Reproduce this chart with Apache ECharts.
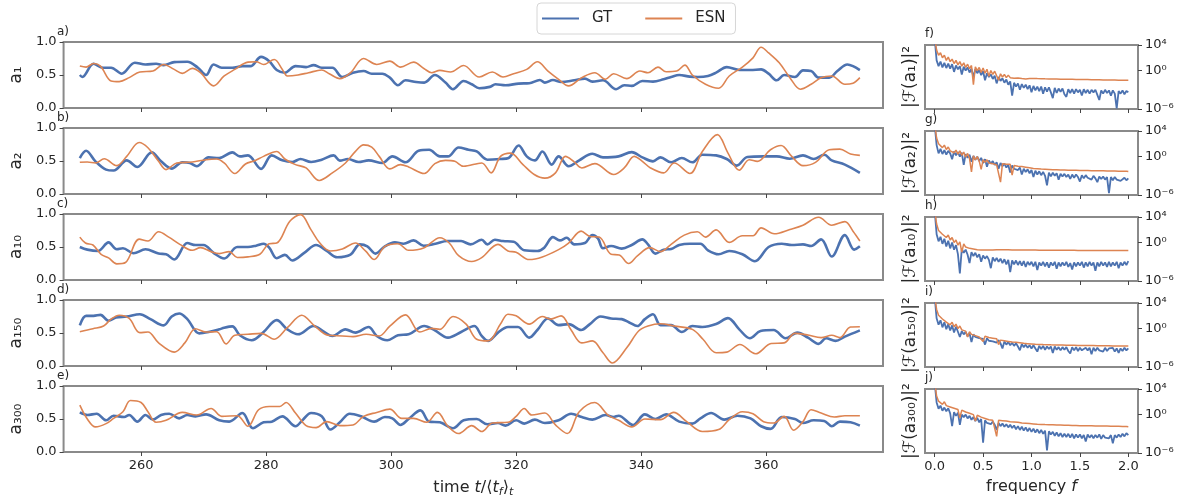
<!DOCTYPE html>
<html>
<head>
<meta charset="utf-8">
<title>GT vs ESN modal amplitudes</title>
<script src="https://cdn.jsdelivr.net/npm/echarts@6.0.0/dist/echarts.min.js"></script>
<style>
  html, body { margin: 0; padding: 0; background: #ffffff; }
  #chart { width: 1186px; height: 502px; }
</style>
</head>
<body>
<div id="chart"></div>
<script>
// ---- Time traces: [time t/<t_f>_t, amplitude] ----
const a1GT = [[250.2,0.50],[250.6,0.47],[252.4,0.67],[253.9,0.61],[255.2,0.61],[256.9,0.52],[259,0.685],[260.7,0.66],[262.4,0.67],[263.6,0.65],[265.3,0.695],[267.4,0.70],[269.1,0.61],[270.4,0.50],[271.6,0.66],[272.9,0.61],[274.6,0.61],[276.2,0.635],[277.5,0.635],[279.2,0.775],[280.5,0.71],[281.7,0.575],[283,0.535],[284.7,0.635],[286.4,0.62],[287.6,0.65],[288.9,0.61],[290.6,0.61],[292.2,0.47],[293.9,0.535],[295.6,0.56],[296.9,0.52],[298.6,0.52],[299.8,0.46],[301.1,0.345],[302.3,0.42],[304,0.395],[305.3,0.385],[307,0.50],[308.7,0.385],[309.9,0.285],[311.6,0.41],[312.9,0.36],[314.1,0.30],[315.8,0.32],[316.7,0.36],[318.3,0.345],[320.4,0.37],[322.1,0.375],[323.8,0.425],[324.6,0.385],[325.9,0.425],[327.2,0.395],[329.3,0.42],[331,0.445],[332.2,0.40],[333.9,0.42],[336,0.285],[337.3,0.345],[338.5,0.335],[340.2,0.41],[341.9,0.40],[343.6,0.435],[344.8,0.47],[346.1,0.50],[347.8,0.475],[349.1,0.47],[350.7,0.485],[352,0.535],[353.7,0.62],[355.8,0.575],[357.5,0.575],[359.2,0.585],[360.4,0.52],[361.7,0.42],[362.9,0.50],[364.6,0.47],[365.9,0.57],[367.2,0.56],[368.4,0.46],[370.1,0.46],[371.4,0.56],[373,0.66],[373.9,0.635],[375,0.575]];
const a1ESN = [[250.2,0.635],[251.2,0.62],[252.4,0.675],[253.5,0.635],[255.2,0.41],[256.5,0.40],[258.1,0.46],[259.8,0.545],[261.9,0.56],[263.6,0.66],[265.3,0.585],[266.6,0.525],[268.2,0.60],[269.5,0.535],[271.6,0.335],[273.3,0.485],[275,0.585],[277.1,0.695],[278.4,0.70],[279.6,0.66],[281.3,0.735],[282.6,0.585],[283.4,0.485],[285.1,0.50],[286.8,0.535],[288.9,0.575],[290.1,0.52],[291.8,0.445],[293.5,0.535],[295.6,0.75],[297.7,0.66],[299.8,0.71],[301.5,0.62],[303.6,0.695],[305.3,0.595],[306.5,0.535],[307.8,0.57],[309.5,0.545],[311.6,0.645],[314.1,0.47],[316.2,0.545],[317.9,0.47],[319.6,0.52],[321.7,0.585],[323.4,0.70],[325.1,0.56],[326.8,0.435],[328.4,0.335],[330.5,0.46],[332.6,0.535],[334.3,0.435],[335.6,0.52],[337.7,0.445],[339.8,0.56],[341.1,0.535],[342.7,0.62],[344,0.55],[345.7,0.56],[347,0.65],[348.2,0.50],[350.3,0.36],[352.4,0.30],[354.1,0.485],[356.2,0.62],[357.9,0.76],[359.2,0.92],[360.4,0.835],[362.1,0.685],[363.8,0.46],[365.5,0.285],[367.2,0.36],[368.8,0.46],[370.5,0.485],[372.6,0.36],[373.9,0.375],[375,0.46]];

const a2GT = [[250.2,0.545],[251.2,0.655],[252.7,0.495],[254.4,0.37],[255.6,0.355],[257.7,0.51],[259.4,0.41],[261.7,0.63],[263.2,0.495],[264.9,0.385],[266.6,0.48],[267.8,0.47],[268.9,0.42],[270.8,0.555],[272.5,0.545],[274.6,0.63],[275.8,0.57],[277.1,0.585],[279.2,0.38],[280.9,0.585],[282.6,0.51],[284.2,0.485],[285.5,0.53],[287.2,0.485],[288.9,0.52],[290.8,0.585],[291.8,0.505],[293.1,0.53],[294.8,0.485],[296.4,0.51],[298.6,0.47],[300.2,0.57],[302.3,0.48],[304.4,0.655],[306.1,0.67],[307.8,0.57],[309.1,0.57],[310.8,0.705],[312.4,0.67],[313.7,0.645],[315.4,0.52],[317.5,0.53],[318.8,0.545],[320.4,0.735],[321.7,0.57],[323,0.51],[324.2,0.645],[325.7,0.445],[326.8,0.57],[328.4,0.42],[330.1,0.51],[332.2,0.61],[333.9,0.555],[336.4,0.57],[338.5,0.635],[340.2,0.555],[341.9,0.495],[343.1,0.555],[344.8,0.48],[346.5,0.545],[348.2,0.48],[349.8,0.595],[352,0.585],[353.7,0.53],[355.3,0.43],[357,0.56],[359.6,0.57],[361.7,0.57],[363.8,0.535],[365.9,0.585],[367.6,0.53],[369.3,0.595],[370.5,0.51],[372.6,0.445],[375,0.32]];
const a2ESN = [[250.2,0.48],[251.4,0.485],[252.7,0.47],[254.1,0.535],[256.1,0.43],[257.7,0.57],[259.7,0.78],[261.1,0.70],[262.8,0.495],[264,0.37],[265.7,0.47],[268.2,0.485],[270.4,0.52],[272.1,0.53],[273.3,0.47],[275,0.31],[276.7,0.455],[278.2,0.505],[279.6,0.57],[281.7,0.645],[283,0.53],[284.7,0.445],[286.4,0.395],[288.5,0.205],[290.6,0.32],[292.7,0.47],[294.3,0.645],[295.6,0.745],[296.9,0.71],[298.1,0.57],[299.8,0.38],[301.5,0.445],[302.8,0.41],[305.3,0.31],[307,0.46],[308.7,0.51],[310.2,0.495],[311.6,0.42],[314.5,0.47],[316,0.32],[317.5,0.57],[319.1,0.62],[321.1,0.445],[322.9,0.295],[324.6,0.24],[326.3,0.32],[327.9,0.57],[329.2,0.495],[330.5,0.395],[332.6,0.46],[335.6,0.295],[337.3,0.395],[338.9,0.57],[340.2,0.495],[341.5,0.395],[343.6,0.32],[345.3,0.47],[347.8,0.31],[349.8,0.645],[352.2,0.90],[353.9,0.62],[355.7,0.36],[357.3,0.52],[358.6,0.495],[360.7,0.67],[362.4,0.735],[364.1,0.57],[365.9,0.43],[367.9,0.48],[370.1,0.67],[371.8,0.68],[373.5,0.605],[375,0.585]];

const a10GT = [[250.2,0.50],[251.4,0.46],[253.1,0.44],[254.8,0.57],[256.1,0.465],[257.1,0.48],[258.8,0.405],[260.7,0.465],[262.8,0.40],[264,0.39],[265.3,0.31],[267.4,0.56],[268.7,0.53],[270,0.53],[271.6,0.41],[273.3,0.325],[275.4,0.50],[277.1,0.50],[278.4,0.52],[279.6,0.55],[280.5,0.49],[281.7,0.33],[283,0.38],[284.2,0.295],[286.1,0.41],[288,0.53],[289.7,0.44],[291.4,0.345],[293.5,0.385],[295,0.54],[296.2,0.51],[297.5,0.40],[299,0.51],[300.6,0.57],[302,0.55],[303.6,0.60],[305.2,0.52],[307.1,0.55],[309,0.59],[311.2,0.59],[312.7,0.54],[314.5,0.61],[315.4,0.54],[316.6,0.61],[317.9,0.59],[319.6,0.58],[321.3,0.45],[323.4,0.44],[324.5,0.49],[325.9,0.65],[327,0.60],[328.1,0.64],[329.3,0.54],[331,0.56],[332.2,0.68],[333.1,0.63],[333.9,0.48],[335.2,0.515],[336.9,0.475],[338.5,0.53],[340.2,0.615],[341.1,0.54],[342.3,0.40],[343.6,0.46],[344.8,0.47],[346.1,0.53],[347.8,0.55],[349.5,0.55],[350.7,0.45],[352.4,0.39],[354.1,0.44],[356.2,0.39],[358.2,0.285],[360.4,0.50],[362.5,0.55],[364.1,0.53],[365.9,0.54],[367.2,0.515],[368.8,0.615],[370.5,0.355],[372.6,0.68],[374.1,0.46],[375,0.51]];
const a10ESN = [[250.2,0.65],[251.1,0.56],[252.3,0.53],[253.6,0.39],[254.8,0.335],[256.1,0.245],[257.5,0.265],[259.7,0.62],[261.1,0.59],[262.8,0.73],[264.5,0.645],[266.2,0.54],[268.2,0.45],[269.5,0.49],[271.2,0.43],[272.5,0.40],[274.1,0.43],[275.4,0.34],[277.1,0.35],[279,0.39],[280.5,0.55],[281.7,0.56],[283.8,0.89],[285.5,0.99],[287.2,0.76],[288.6,0.56],[290.3,0.44],[292.2,0.47],[294.3,0.56],[295.9,0.44],[297.3,0.31],[299,0.51],[301.1,0.55],[302.8,0.45],[305.3,0.49],[307.8,0.64],[309.3,0.56],[310.8,0.37],[312.9,0.28],[314.5,0.34],[317.1,0.54],[318.7,0.44],[320,0.42],[322.1,0.31],[324.2,0.35],[326.8,0.46],[328.4,0.56],[330.4,0.74],[331.8,0.66],[333.3,0.65],[335.2,0.39],[336.5,0.38],[338,0.25],[339.4,0.365],[341.4,0.49],[343.1,0.43],[344.8,0.54],[346.9,0.68],[349,0.73],[350.3,0.65],[352,0.76],[354.1,0.57],[356.2,0.67],[357.9,0.67],[359.2,0.79],[361.3,0.70],[363.8,0.765],[365.9,0.83],[368.4,0.95],[370.5,0.83],[372.6,0.885],[373.9,0.74],[375,0.59]];

const a150GT = [[250.2,0.615],[251.2,0.76],[252.4,0.76],[253.5,0.775],[254.8,0.685],[256,0.735],[257.7,0.75],[259.8,0.785],[261.5,0.71],[263.6,0.615],[264.9,0.75],[266.1,0.795],[267.4,0.71],[269.3,0.495],[270.8,0.515],[272.5,0.555],[273.3,0.58],[274.6,0.60],[275.8,0.465],[277.7,0.39],[279.6,0.515],[281.7,0.695],[283.4,0.555],[285.1,0.48],[287.6,0.605],[289.3,0.515],[290.6,0.455],[292.7,0.555],[294.3,0.505],[296.4,0.59],[297.7,0.455],[299.4,0.39],[301.1,0.465],[302.8,0.48],[305.3,0.605],[307,0.54],[309.1,0.43],[311.2,0.515],[313.3,0.605],[314.5,0.455],[315.5,0.38],[317.1,0.505],[318.7,0.59],[320.3,0.59],[322.1,0.43],[323.4,0.545],[325.1,0.72],[326.8,0.62],[328.4,0.635],[330.4,0.545],[331.8,0.635],[333.5,0.75],[335.2,0.72],[336.9,0.71],[338.1,0.66],[339.4,0.605],[340.6,0.71],[341.9,0.785],[343.1,0.62],[344.8,0.62],[346.5,0.515],[348.2,0.605],[349.8,0.59],[352,0.635],[353.9,0.725],[355.7,0.555],[357.4,0.42],[359.1,0.53],[361.2,0.545],[363.1,0.42],[365,0.505],[366.7,0.43],[368.4,0.335],[369.6,0.42],[371.1,0.38],[372.6,0.445],[375,0.54]];
const a150ESN = [[250.2,0.52],[252.3,0.565],[254,0.605],[255.2,0.71],[256.5,0.77],[258.1,0.72],[259.8,0.505],[261.1,0.515],[262.8,0.35],[265.3,0.21],[267,0.35],[268.7,0.565],[270.4,0.515],[272.1,0.52],[273.6,0.335],[275,0.465],[277.1,0.48],[279.2,0.495],[281.3,0.405],[283.4,0.58],[285.7,0.77],[287.8,0.605],[289.9,0.465],[292.2,0.455],[293.9,0.445],[296,0.48],[298.1,0.455],[299.8,0.605],[302.3,0.775],[304.6,0.515],[306.5,0.57],[307.8,0.555],[309.9,0.75],[312,0.635],[313.7,0.405],[315.5,0.38],[317.5,0.635],[318.7,0.785],[320,0.76],[322.1,0.635],[324.2,0.75],[325.5,0.71],[327.2,0.76],[328.8,0.545],[330.5,0.35],[332.2,0.38],[333.9,0.20],[335.4,0.045],[337.7,0.275],[339.6,0.53],[341.1,0.605],[343.1,0.64],[345.3,0.605],[348.2,0.555],[349.9,0.405],[352,0.20],[353.7,0.21],[355.8,0.325],[358.3,0.185],[360.8,0.34],[362.9,0.35],[364.6,0.495],[366.7,0.47],[368.8,0.43],[370.5,0.465],[371.8,0.43],[373.5,0.59],[375,0.595]];

const a300GT = [[250.2,0.60],[251.4,0.56],[252.9,0.58],[254.4,0.48],[255.6,0.55],[257.3,0.53],[258.1,0.56],[259.4,0.46],[260.7,0.56],[261.9,0.49],[263.2,0.56],[264.5,0.58],[266.1,0.51],[267.4,0.56],[268.7,0.54],[270.4,0.57],[272.5,0.48],[274.1,0.46],[276.2,0.59],[277.9,0.36],[279.6,0.45],[280.9,0.46],[282.6,0.54],[284.7,0.39],[285.9,0.49],[287.2,0.59],[288.9,0.54],[290.3,0.34],[291.8,0.45],[293.4,0.58],[295.2,0.54],[297.3,0.46],[299,0.53],[300.2,0.51],[301.5,0.41],[302.8,0.50],[304.7,0.63],[306.1,0.46],[307.8,0.45],[309.9,0.36],[311.6,0.48],[313.7,0.50],[315.4,0.42],[317.1,0.44],[318.3,0.40],[320,0.48],[321.3,0.43],[323,0.49],[324.6,0.44],[326.8,0.48],[328.8,0.58],[330.5,0.53],[332.2,0.49],[334.3,0.56],[335.6,0.53],[336.4,0.55],[338.7,0.41],[340.6,0.57],[342.3,0.50],[344,0.57],[346.1,0.46],[348.2,0.43],[349.5,0.51],[351.2,0.59],[353.3,0.49],[355.4,0.55],[357.5,0.51],[359.2,0.39],[360.7,0.35],[362.5,0.53],[364.6,0.50],[365.9,0.44],[367.6,0.48],[369.3,0.47],[370.5,0.39],[371.8,0.46],[373.5,0.45],[375,0.40]];
const a300ESN = [[250.2,0.71],[251.4,0.50],[252.7,0.38],[254.4,0.43],[255.6,0.51],[257.1,0.61],[258.3,0.78],[260,0.75],[261.1,0.61],[262.4,0.45],[264,0.48],[266.6,0.60],[268.9,0.56],[271.2,0.66],[272.9,0.54],[275.4,0.55],[277.1,0.39],[278.8,0.64],[280.5,0.69],[282.2,0.69],[283.2,0.75],[284.7,0.59],[286.4,0.40],[288,0.37],[289.7,0.46],[291.8,0.40],[293.9,0.41],[295.6,0.54],[297.7,0.60],[299.8,0.65],[301.7,0.51],[303.6,0.51],[305.7,0.45],[307.4,0.60],[309.1,0.39],[310.8,0.28],[312.9,0.40],[314.5,0.31],[316.2,0.44],[318.7,0.45],[320,0.54],[321.3,0.66],[322.5,0.56],[324.6,0.59],[326.3,0.41],[328.2,0.28],[330.1,0.61],[332.6,0.75],[334.7,0.56],[336.4,0.48],[338.5,0.38],[340.6,0.50],[343.1,0.49],[345.2,0.60],[347.3,0.46],[349.8,0.31],[352.4,0.34],[354.1,0.49],[356.2,0.61],[357.9,0.58],[359.6,0.46],[361.2,0.44],[362.9,0.54],[364.4,0.33],[365.9,0.46],[367.2,0.64],[368.8,0.59],[370.9,0.53],[372.6,0.55],[375,0.55]];

// ---- Power spectra: log10 |F(a)|^2 on a uniform grid f = 0 ... 2 ----
const specA1GT = [5,1.6,0.7,1.4,0.5,1.2,0.4,1.1,0.3,1.0,-0.2,0.8,0.2,0.7,-0.6,0.6,0.0,0.5,-0.3,0.3,-1.0,0.2,-0.4,0.1,-0.7,-0.1,-1.5,-0.4,-1.0,-0.6,-1.3,-0.8,-2.0,-1.0,-1.6,-1.2,-1.9,-1.4,-2.2,-1.7,-3.9,-1.9,-2.5,-2.0,-3.0,-2.1,-2.7,-2.2,-2.9,-2.3,-3.4,-2.4,-3.1,-2.5,-3.2,-2.5,-3.6,-2.6,-3.3,-2.6,-3.4,-4.3,-2.7,-3.5,-2.8,-3.3,-2.8,-3.7,-4.1,-2.9,-3.5,-2.9,-3.6,-2.9,-3.4,-3.0,-3.9,-2.9,-3.5,-3.0,-3.6,-3.0,-3.4,-3.0,-3.8,-4.6,-3.1,-3.6,-3.0,-3.5,-3.1,-3.9,-3.1,-3.6,-5.9,-3.2,-3.6,-3.1,-3.7,-3.2,-3.4];
const specA1ESN = [5,3.2,2.4,2.8,2.0,2.4,1.6,2.1,1.4,1.8,1.1,1.6,0.9,1.4,0.7,1.2,0.5,1.0,0.3,0.8,-2.2,0.6,0.0,0.5,-0.3,0.4,-0.4,0.2,-0.9,0.0,-0.6,-0.1,-0.8,-1.5,-0.5,-1.0,-0.6,-1.1,-0.7,-1.1,-0.8,-1.2,-0.9,-1.15,-1.0,-1.25,-1.05,-1.3,-1.1,-1.25,-1.15,-1.22,-1.18,-1.25,-1.21,-1.27,-1.24,-1.29,-1.26,-1.3,-1.28,-1.32,-1.29,-1.33,-1.31,-1.34,-1.32,-1.35,-1.33,-1.36,-1.34,-1.37,-1.35,-1.38,-1.36,-1.39,-1.37,-1.4,-1.38,-1.41,-1.39,-1.42,-1.4,-1.43,-1.41,-1.44,-1.42,-1.45,-1.43,-1.46,-1.44,-1.47,-1.45,-1.48,-1.46,-1.49,-1.47,-1.5,-1.48,-1.5,-1.49];
const specA2GT = [5,1.8,0.5,1.2,0.4,1.0,0.3,0.9,0.5,-0.4,0.8,0.2,0.7,0.0,0.6,-1.3,0.4,-0.2,0.3,-0.8,0.1,-0.5,0.0,-0.7,-0.2,-1.0,-0.4,-1.6,-0.6,-1.1,-0.7,-1.3,-0.9,-1.9,-1.0,-1.5,-1.1,-1.7,-1.3,-2.5,-1.4,-1.9,-1.6,-2.1,-1.7,-2.8,-1.9,-2.4,-2.0,-2.6,-2.1,-3.2,-2.2,-2.8,-2.3,-2.9,-2.4,-3.0,-4.5,-2.5,-3.1,-2.5,-3.0,-2.6,-3.6,-2.7,-3.1,-2.7,-3.2,-2.8,-3.5,-2.8,-3.3,-2.8,-3.2,-3.9,-2.9,-3.4,-2.9,-3.3,-3.0,-3.6,-3.0,-3.4,-4.0,-3.1,-3.5,-3.1,-3.6,-3.2,-5.7,-3.2,-3.7,-3.2,-3.6,-3.3,-3.8,-4.0,-3.3,-3.7,-3.4];
const specA2ESN = [5,2.9,2.0,2.2,1.4,1.8,1.1,1.5,0.9,1.2,0.6,1.0,0.4,0.9,0.2,0.7,-0.1,0.5,-0.3,-2.4,0.1,-0.5,0.0,-0.7,-2.0,-0.5,-0.9,-0.5,-1.0,-0.7,-1.1,-0.8,-1.3,-1.0,-4.0,-1.1,-1.4,-1.2,-1.5,-1.2,-2.9,-1.4,-1.7,-1.5,-1.8,-1.55,-1.85,-1.65,-1.9,-1.75,-1.95,-1.85,-2.0,-1.9,-2.03,-1.95,-2.06,-1.98,-2.08,-2.01,-2.1,-2.04,-2.12,-2.06,-2.14,-2.08,-2.15,-2.1,-2.17,-2.12,-2.18,-2.14,-2.2,-2.15,-2.21,-2.17,-2.22,-2.18,-2.23,-2.19,-2.24,-2.2,-2.25,-2.21,-2.26,-2.22,-2.26,-2.23,-2.27,-2.24,-2.28,-2.25,-2.28,-2.26,-2.29,-2.27,-2.3,-2.27,-2.3,-2.28,-2.31];
const specA10GT = [5,1.3,0.2,0.9,-0.2,0.6,-0.6,0.3,-0.9,0.0,-1.1,-0.4,-1.8,-4.8,-1.0,-1.6,-1.1,-1.9,-3.2,-1.5,-2.1,-1.6,-2.3,-1.8,-3.0,-2.0,-2.5,-2.1,-2.7,-4.0,-2.3,-2.9,-2.4,-3.0,-2.5,-3.2,-2.6,-3.4,-2.7,-4.6,-2.8,-3.4,-2.8,-3.5,-2.9,-3.6,-2.9,-3.8,-3.0,-3.5,-3.0,-3.7,-3.0,-4.3,-3.1,-3.6,-3.0,-3.7,-3.1,-3.9,-3.1,-3.6,-3.0,-4.1,-3.1,-3.7,-3.1,-3.6,-3.0,-3.8,-3.2,-4.2,-3.1,-3.7,-3.1,-3.6,-3.0,-3.9,-3.1,-3.7,-3.0,-3.6,-3.1,-4.4,-3.1,-3.7,-3.0,-3.6,-3.1,-3.8,-3.0,-3.7,-3.1,-3.6,-3.0,-4.0,-3.1,-3.6,-3.0,-3.5,-2.9];
const specA10ESN = [5,2.9,1.9,2.2,1.3,1.6,0.8,1.2,0.4,0.8,0.0,0.4,-0.4,0.1,-1.5,-0.2,-0.7,-0.4,-0.9,-0.6,-1.0,-0.8,-1.1,-0.9,-1.15,-1.0,-1.15,-1.05,-1.15,-1.08,-1.15,-1.12,-1.1,-1.14,-1.11,-1.15,-1.12,-1.16,-1.13,-1.17,-1.14,-1.17,-1.15,-1.18,-1.15,-1.18,-1.16,-1.19,-1.16,-1.19,-1.17,-1.2,-1.17,-1.2,-1.18,-1.21,-1.18,-1.21,-1.19,-1.21,-1.19,-1.22,-1.2,-1.22,-1.2,-1.22,-1.2,-1.23,-1.21,-1.23,-1.21,-1.23,-1.21,-1.24,-1.22,-1.24,-1.22,-1.24,-1.22,-1.24,-1.23,-1.25,-1.23,-1.25,-1.23,-1.25,-1.23,-1.25,-1.24,-1.26,-1.24,-1.26,-1.24,-1.26,-1.24,-1.26,-1.25,-1.26,-1.25,-1.27,-1.25];
const specA150GT = [5,1.6,0.6,1.3,0.2,1.0,-0.1,0.7,-0.3,0.5,-0.6,0.3,-0.5,-1.3,-0.4,-0.9,-0.5,-1.2,-0.7,-2.1,-0.9,-1.3,-1.0,-1.5,-1.2,-1.6,-2.5,-1.5,-1.9,-1.6,-2.0,-1.7,-2.2,-1.8,-2.3,-3.1,-2.0,-2.5,-2.1,-2.6,-2.2,-2.7,-2.3,-2.8,-3.4,-2.4,-2.9,-2.5,-3.0,-2.6,-3.1,-2.6,-3.1,-3.6,-2.7,-3.2,-2.7,-3.3,-2.8,-3.2,-2.8,-3.8,-2.8,-3.3,-2.9,-3.4,-2.9,-3.3,-2.9,-3.5,-3.9,-2.9,-3.4,-2.9,-3.5,-3.0,-3.4,-3.7,-3.0,-3.4,-3.0,-4.0,-3.0,-3.5,-3.0,-3.4,-3.1,-3.6,-3.0,-3.5,-3.1,-3.4,-3.0,-3.6,-3.1,-3.8,-3.1,-3.5,-3.0,-3.4,-3.1];
const specA150ESN = [5,3.0,2.1,2.2,1.5,1.7,1.0,1.3,0.6,1.0,0.3,0.7,0.0,0.4,-0.2,0.1,-0.4,-1.3,-0.5,-0.9,-0.6,-1.1,-0.8,-1.3,-1.0,-2.0,-1.2,-1.5,-1.4,-1.7,-1.5,-1.8,-1.6,-2.5,-1.8,-2.0,-1.9,-2.1,-2.0,-2.2,-2.1,-2.3,-2.15,-2.35,-2.2,-2.4,-2.3,-2.45,-2.35,-2.5,-2.4,-2.5,-2.45,-2.53,-2.47,-2.55,-2.5,-2.57,-2.52,-2.58,-2.54,-2.6,-2.55,-2.61,-2.57,-2.62,-2.58,-2.63,-2.6,-2.64,-2.61,-2.65,-2.62,-2.66,-2.63,-2.67,-2.64,-2.67,-2.65,-2.68,-2.66,-2.69,-2.66,-2.7,-2.67,-2.7,-2.68,-2.71,-2.69,-2.71,-2.69,-2.72,-2.7,-2.72,-2.7,-2.73,-2.71,-2.73,-2.71,-2.74,-2.72];
const specA300GT = [5,1.9,0.9,1.4,0.6,1.1,0.5,1.0,0.2,-1.8,0.4,-0.2,0.3,-1.6,0.0,-0.4,0.0,-0.6,-0.2,-0.8,-0.4,-1.0,-0.5,-1.2,-0.7,-4.4,-0.9,-1.3,-1.0,-1.5,-1.1,-1.6,-2.4,-1.3,-1.8,-1.4,-1.9,-1.5,-2.0,-1.6,-2.1,-1.7,-2.3,-1.8,-2.4,-1.9,-2.5,-2.0,-2.6,-2.1,-2.7,-2.2,-2.8,-2.3,-2.9,-2.4,-3.0,-2.5,-5.6,-2.6,-3.1,-2.7,-3.3,-2.8,-3.4,-2.9,-3.5,-3.0,-3.5,-3.0,-3.6,-3.0,-3.7,-3.1,-3.6,-3.1,-3.7,-3.2,-4.2,-3.1,-3.6,-3.2,-3.7,-3.2,-3.6,-3.1,-3.8,-3.2,-3.6,-3.3,-3.7,-3.2,-4.5,-3.2,-3.6,-3.1,-3.5,-3.0,-3.4,-2.9,-3.2];
const specA300ESN = [5,2.9,2.1,2.3,1.6,2.0,1.4,1.7,1.2,1.5,1.0,1.3,0.8,-0.5,0.7,0.9,0.4,0.7,0.2,0.5,0.0,-1.0,-0.1,0.1,-0.4,-0.1,-0.6,-0.3,-0.8,-0.5,-0.9,-0.7,-3.4,-0.9,-1.1,-0.95,-1.2,-1.0,-1.25,-1.1,-1.3,-1.15,-1.35,-1.2,-1.4,-1.3,-1.45,-1.35,-1.5,-1.4,-1.55,-1.45,-1.58,-1.5,-1.6,-1.53,-1.63,-1.56,-1.65,-1.58,-1.67,-1.6,-1.69,-1.62,-1.7,-1.64,-1.72,-1.66,-1.73,-1.68,-1.75,-1.7,-1.76,-1.71,-1.77,-1.73,-1.78,-1.74,-1.79,-1.75,-1.8,-1.76,-1.81,-1.77,-1.82,-1.78,-1.83,-1.79,-1.84,-1.8,-1.85,-1.81,-1.86,-1.82,-1.86,-1.83,-1.87,-1.84,-1.88,-1.85,-1.89];

// ---- Axis ticks and labels ----
const timeTicks = [260, 280, 300, 320, 340, 360];
const freqTicks = [0, 0.5, 1, 1.5, 2];
const powerTicks = [-6, 0, 4];
const powerLabels = { '-6': '10⁻⁶', '0': '10⁰', '4': '10⁴' };
const modeNames = ['a₁', 'a₂', 'a₁₀', 'a₁₅₀', 'a₃₀₀'];
const specNames = ['|ℱ(a₁)|²', '|ℱ(a₂)|²', '|ℱ(a₁₀)|²', '|ℱ(a₁₅₀)|²', '|ℱ(a₃₀₀)|²'];
const leftLetters = ['a)', 'b)', 'c)', 'd)', 'e)'];
const rightLetters = ['f)', 'g)', 'h)', 'i)', 'j)'];
const fMax = 2;

const gtTraces = [a1GT, a2GT, a10GT, a150GT, a300GT];
const esnTraces = [a1ESN, a2ESN, a10ESN, a150ESN, a300ESN];
const gtSpectra = [specA1GT, specA2GT, specA10GT, specA150GT, specA300GT];
const esnSpectra = [specA1ESN, specA2ESN, specA10ESN, specA150ESN, specA300ESN];

const BLUE = '#4C72B0';
const ORANGE = '#DD8452';
const FRAME = '#8a8a8a';
const INK = '#262626';
const FONT = 'DejaVu Sans';

// spectrum samples sit on an evenly spaced frequency grid from 0 to fMax
function spectrumPoints(vals) {
  const df = fMax / (vals.length - 1);
  return vals.map((v, i) => [i * df, v]);
}

const panelTops = [42, 128, 214, 300, 386];
const grids = [], xAxes = [], yAxes = [], series = [], titles = [];

panelTops.forEach((top, i) => {
  const last = i === panelTops.length - 1;
  // left: time traces
  grids.push({ left: 57, width: 826, top: top, height: 66, show: true,
    borderColor: FRAME, borderWidth: 2, backgroundColor: '#fff' });
  // right: spectra
  grids.push({ left: 925, width: 213, top: top + 3, height: 64, show: true,
    borderColor: FRAME, borderWidth: 2, backgroundColor: '#fff' });

  const gL = 2 * i, gR = 2 * i + 1;

  xAxes.push({
    type: 'value', gridIndex: gL, min: 247.6, max: 378.7,
    axisLine: { show: false, onZero: false }, splitLine: { show: false },
    axisTick: { show: true, customValues: timeTicks, length: 4, lineStyle: { color: '#444', width: 1 } },
    axisLabel: { show: last, customValues: timeTicks, fontFamily: FONT, fontSize: 13, color: INK, margin: 7 },
    name: last ? 'time {i|t}/⟨{i|t}{s|f}⟩{s|t}' : '',
    nameLocation: 'middle', nameGap: 26,
    nameTextStyle: { fontFamily: FONT, fontSize: 16, color: INK,
      rich: {
        i: { fontFamily: FONT, fontSize: 16, fontStyle: 'italic', color: INK, lineHeight: 20 },
        s: { fontFamily: FONT, fontSize: 11, fontStyle: 'italic', color: INK, lineHeight: 10, verticalAlign: 'bottom' }
      } }
  });
  xAxes.push({
    type: 'value', gridIndex: gR, min: -0.1, max: 2.1,
    axisLine: { show: false, onZero: false }, splitLine: { show: false },
    axisTick: { show: true, customValues: freqTicks, length: 4, lineStyle: { color: '#444', width: 1 } },
    axisLabel: { show: last, customValues: freqTicks, formatter: v => v.toFixed(1),
      fontFamily: FONT, fontSize: 13, color: INK, margin: 7 },
    name: last ? 'frequency {i|f}' : '',
    nameLocation: 'middle', nameGap: 26,
    nameTextStyle: { fontFamily: FONT, fontSize: 16, color: INK,
      rich: { i: { fontFamily: FONT, fontSize: 16, fontStyle: 'italic', color: INK } } }
  });

  yAxes.push({
    type: 'value', gridIndex: gL, min: 0, max: 1, interval: 0.5,
    axisLine: { show: false, onZero: false }, splitLine: { show: false },
    axisTick: { show: true, length: 4, lineStyle: { color: '#444', width: 1 } },
    axisLabel: { formatter: v => v.toFixed(1), fontFamily: FONT, fontSize: 13, color: INK, margin: 7 },
    name: modeNames[i], nameLocation: 'middle', nameGap: 33, nameRotate: 90,
    nameTextStyle: { fontFamily: FONT, fontSize: 17, color: INK }
  });
  const yR = yAxes.length;
  yAxes.push({
    type: 'value', gridIndex: gR, position: 'right', min: -6, max: 4,
    axisLine: { show: false, onZero: false }, splitLine: { show: false },
    axisTick: { show: true, customValues: powerTicks, length: 4, lineStyle: { color: '#444', width: 1 } },
    axisLabel: { customValues: powerTicks, formatter: v => powerLabels[String(v)],
      fontFamily: FONT, fontSize: 13, color: INK, margin: 7 }
  });
  // left-hand title of the spectrum panel
  yAxes.push({
    type: 'value', gridIndex: gR, position: 'left', min: -6, max: 4,
    axisLine: { show: false, onZero: false }, axisTick: { show: false }, axisLabel: { show: false },
    splitLine: { show: false },
    name: specNames[i], nameLocation: 'middle', nameGap: 6, nameRotate: 90,
    nameTextStyle: { fontFamily: FONT, fontSize: 17, color: INK }
  });

  series.push({ name: 'GT', type: 'line', xAxisIndex: gL, yAxisIndex: 3 * i,
    data: gtTraces[i], symbol: 'none', smooth: 0.35, clip: true,
    lineStyle: { color: BLUE, width: 2.6 }, itemStyle: { color: BLUE }, z: 2 });
  series.push({ name: 'ESN', type: 'line', xAxisIndex: gL, yAxisIndex: 3 * i,
    data: esnTraces[i], symbol: 'none', smooth: 0.35, clip: true,
    lineStyle: { color: ORANGE, width: 1.6 }, itemStyle: { color: ORANGE }, z: 3 });
  series.push({ name: 'GT', type: 'line', xAxisIndex: gR, yAxisIndex: yR,
    data: spectrumPoints(gtSpectra[i]), symbol: 'none', clip: true,
    lineStyle: { color: BLUE, width: 1.8 }, itemStyle: { color: BLUE }, z: 2 });
  series.push({ name: 'ESN', type: 'line', xAxisIndex: gR, yAxisIndex: yR,
    data: spectrumPoints(esnSpectra[i]), symbol: 'none', clip: true,
    lineStyle: { color: ORANGE, width: 1.5 }, itemStyle: { color: ORANGE }, z: 3 });

  titles.push({ text: leftLetters[i], left: 57, top: top - 16, padding: 0,
    textStyle: { fontFamily: FONT, fontSize: 12, fontWeight: 'normal', color: INK } });
  titles.push({ text: rightLetters[i], left: 925, top: top - 14, padding: 0,
    textStyle: { fontFamily: FONT, fontSize: 12, fontWeight: 'normal', color: INK } });
});

const chart = echarts.init(document.getElementById('chart'), null, { renderer: 'canvas' });
chart.setOption({
  animation: false,
  backgroundColor: '#ffffff',
  title: titles,
  legend: {
    data: [
      { name: 'GT', icon: 'rect', itemStyle: { color: BLUE } },
      { name: 'ESN', icon: 'rect', itemStyle: { color: ORANGE } }
    ],
    left: 537, top: 3, orient: 'horizontal',
    itemWidth: 37, itemHeight: 2, itemGap: 33,
    padding: [8, 10, 8, 5],
    borderColor: '#d6d6d6', borderWidth: 1, borderRadius: 4,
    textStyle: { fontFamily: FONT, fontSize: 15, color: INK, padding: [0, 0, 0, 8], lineHeight: 14 }
  },
  grid: grids,
  xAxis: xAxes,
  yAxis: yAxes,
  series: series
});
</script>
</body>
</html>
